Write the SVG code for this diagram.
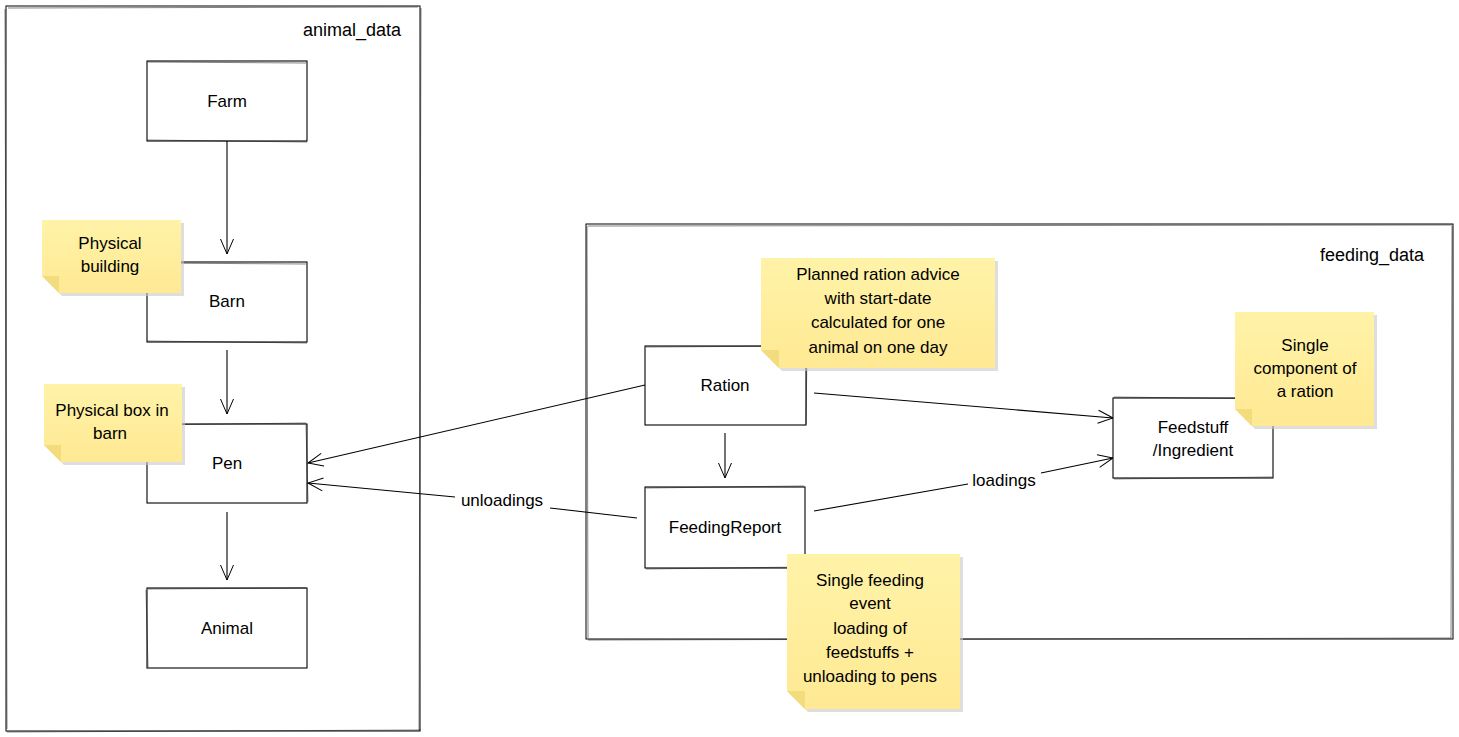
<svg xmlns="http://www.w3.org/2000/svg" width="1459" height="737" viewBox="0 0 1459 737">
<defs>
<linearGradient id="ny" x1="0" y1="0" x2="0" y2="1">
<stop offset="0" stop-color="#fff3a8"/>
<stop offset="1" stop-color="#ffe993"/>
</linearGradient>
<marker id="arr" markerUnits="userSpaceOnUse" markerWidth="18" markerHeight="18" viewBox="0 0 18 18" refX="16" refY="9" orient="auto">
<path d="M1,2.5 L16,9 L1,15.5" fill="none" stroke="#000" stroke-width="1"/>
</marker>
<style>
.box{fill:#fff;stroke:#000;stroke-width:1.1}
.sk{fill:none;stroke:#000;stroke-width:0.7;opacity:0.7}
.grp{fill:none;stroke:#000;stroke-width:1}
.t{font-family:"Liberation Sans","Open Sans",sans-serif;font-size:17px;fill:#000;text-anchor:middle}
.tr{font-family:"Liberation Sans","Open Sans",sans-serif;font-size:18px;fill:#000;text-anchor:end}
.note{fill:url(#ny)}
.fold{fill:#f2dc7e}
.shadow{fill:#c8c8c8;opacity:0.6}
.c{fill:none;stroke:#000;stroke-width:1.1}
.lbl{font-family:"Liberation Sans","Open Sans",sans-serif;font-size:17px;fill:#000;text-anchor:middle}
</style>
</defs>

<g id="animal_data">
<rect class="grp" x="6" y="6" width="414" height="725"/>
<path class="sk" d="M8,8 L418,7 M5,9 L7,729 M421,8 L419,730 M7,732 L421,730"/>
<text class="tr" x="401" y="36">animal_data</text>
</g>

<g id="feeding_data">
<rect class="grp" x="586" y="224" width="867" height="415"/>
<path class="sk" d="M588,226 L1452,225 M587,226 L588,638 M1452,226 L1451,638 M588,640 L1451,638"/>
<text class="tr" x="1424" y="261">feeding_data</text>
</g>

<g id="connectors">
<path class="c" d="M227,141 L227,254" marker-end="url(#arr)"/>
<path class="c" d="M227,350 L227,414" marker-end="url(#arr)"/>
<path class="c" d="M227,512 L227,580" marker-end="url(#arr)"/>
<path class="c" d="M645,385 L308,463" marker-end="url(#arr)"/>
<path class="c" d="M637,518 L550,508 M455,497 L308,483" marker-end="url(#arr)"/>
<text class="lbl" x="502" y="506">unloadings</text>
<path class="c" d="M725,433 L725,478" marker-end="url(#arr)"/>
<path class="c" d="M814,393 L1113,418" marker-end="url(#arr)"/>
<path class="c" d="M814,511 L968,484 M1041,473 L1113,458" marker-end="url(#arr)"/>
<text class="lbl" x="1004" y="486">loadings</text>
</g>

<g id="farm">
<rect class="box" x="147" y="61" width="160" height="80"/>
<path class="sk" d="M148,62 L306,63 M147,140 L307,142"/>
<text class="t" x="227" y="107">Farm</text>
</g>

<g id="barn">
<rect class="box" x="147" y="262" width="160" height="80"/>
<path class="sk" d="M148,263 L306,264 M147,341 L307,343"/>
<text class="t" x="227" y="307">Barn</text>
</g>

<g id="pen">
<rect class="box" x="147" y="424" width="160" height="79"/>
<path class="sk" d="M148,425 L306,423 M306,425 L308,502"/>
<text class="t" x="227" y="469">Pen</text>
</g>

<g id="animal">
<rect class="box" x="147" y="588" width="160" height="80"/>
<path class="sk" d="M148,589 L306,588 M146,590 L148,667"/>
<text class="t" x="227" y="634">Animal</text>
</g>

<g id="ration">
<rect class="box" x="645" y="346" width="161" height="79"/>
<path class="sk" d="M646,347 L805,346 M807,348 L806,424"/>
<text class="t" x="725" y="391">Ration</text>
</g>

<g id="feedingreport">
<rect class="box" x="645" y="487" width="160" height="81"/>
<path class="sk" d="M646,488 L804,486 M646,569 L804,567"/>
<text class="t" x="725" y="533">FeedingReport</text>
</g>

<g id="feedstuff">
<rect class="box" x="1113" y="398" width="160" height="80"/>
<path class="sk" d="M1114,397 L1272,399 M1114,479 L1272,477"/>
<text class="t" x="1193" y="433">Feedstuff</text>
<text class="t" x="1193" y="456">/Ingredient</text>
</g>

<g id="note_building">
<path class="shadow" d="M45,223 L184,223 L184,296 L62,296 L45,279 Z"/>
<path class="note" d="M42,220 L181,220 L181,293 L59,293 L42,276 Z"/>
<path class="fold" d="M42,276 L59,276 L59,293 Z"/>
<text class="t" x="110" y="249">Physical</text>
<text class="t" x="110" y="272">building</text>
</g>

<g id="note_box">
<path class="shadow" d="M47,387 L185,387 L185,465 L64,465 L47,448 Z"/>
<path class="note" d="M44,384 L182,384 L182,462 L61,462 L44,445 Z"/>
<path class="fold" d="M44,445 L61,445 L61,462 Z"/>
<text class="t" x="112" y="416">Physical box in</text>
<text class="t" x="110" y="439">barn</text>
</g>

<g id="note_ration">
<path class="shadow" d="M764,261 L998,261 L998,371 L782,371 L764,353 Z"/>
<path class="note" d="M761,258 L995,258 L995,368 L779,368 L761,350 Z"/>
<path class="fold" d="M761,350 L779,350 L779,368 Z"/>
<text class="t" x="878" y="280">Planned ration advice</text>
<text class="t" x="878" y="304">with start-date</text>
<text class="t" x="878" y="328">calculated for one</text>
<text class="t" x="878" y="353">animal on one day</text>
</g>

<g id="note_feedstuff">
<path class="shadow" d="M1238,315 L1377,315 L1377,429 L1255,429 L1238,412 Z"/>
<path class="note" d="M1235,312 L1374,312 L1374,426 L1252,426 L1235,409 Z"/>
<path class="fold" d="M1235,409 L1252,409 L1252,426 Z"/>
<text class="t" x="1305" y="351">Single</text>
<text class="t" x="1305" y="374">component of</text>
<text class="t" x="1305" y="397">a ration</text>
</g>

<g id="note_report">
<path class="shadow" d="M790,557 L963,557 L963,712 L808,712 L790,694 Z"/>
<path class="note" d="M787,554 L960,554 L960,709 L805,709 L787,691 Z"/>
<path class="fold" d="M787,691 L805,691 L805,709 Z"/>
<text class="t" x="870" y="586">Single feeding</text>
<text class="t" x="870" y="609">event</text>
<text class="t" x="870" y="634">loading of</text>
<text class="t" x="870" y="658">feedstuffs +</text>
<text class="t" x="870" y="682">unloading to pens</text>
</g>
</svg>
